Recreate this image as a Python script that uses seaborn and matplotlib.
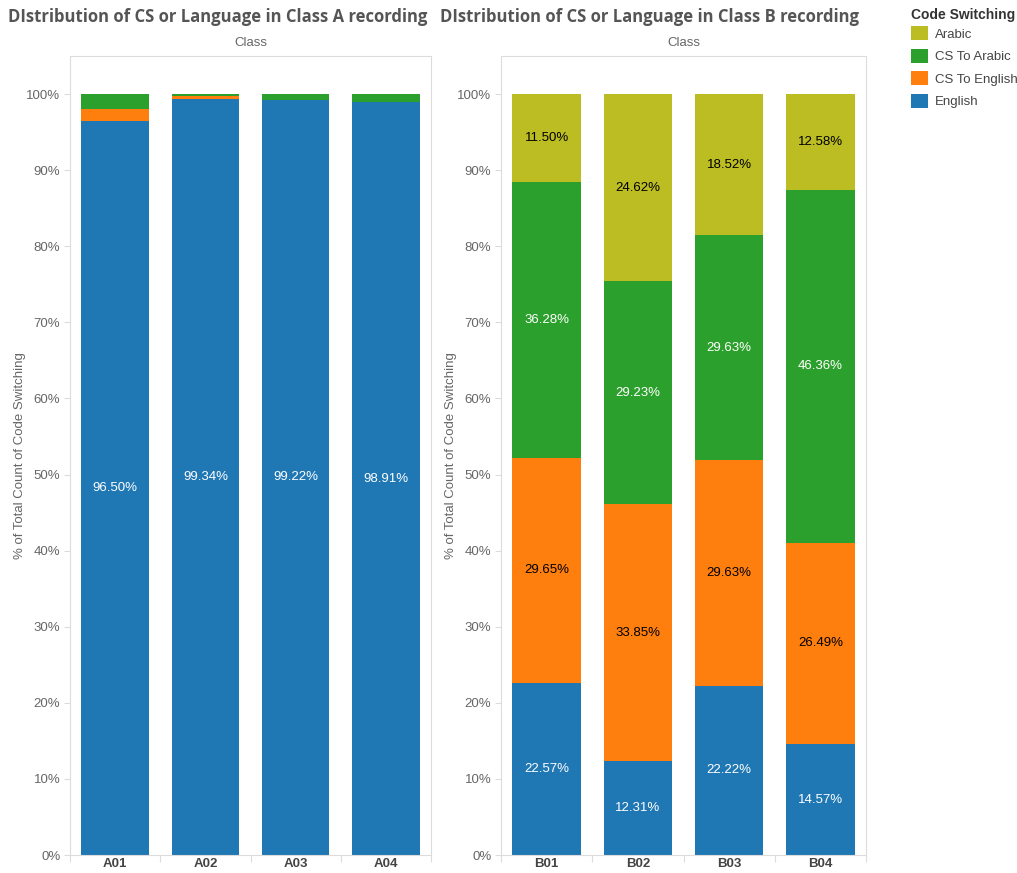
import numpy as np
import pandas as pd
import matplotlib
matplotlib.use("Agg")
import matplotlib.pyplot as plt
from matplotlib.patches import Patch
from matplotlib.ticker import FixedLocator, PercentFormatter
import seaborn as sns

# ---- data (percent of total count of code switching per class recording) ----
layers = ["English", "CS To English", "CS To Arabic", "Arabic"]   # bottom -> top

classes_a = ["A01", "A02", "A03", "A04"]
a_english = [96.50, 99.34, 99.22, 98.91]
a_cs_english = [1.55, 0.41, 0.00, 0.00]
a_cs_arabic = [1.95, 0.25, 0.78, 1.09]
a_arabic = [0.00, 0.00, 0.00, 0.00]

classes_b = ["B01", "B02", "B03", "B04"]
b_english = [22.57, 12.31, 22.22, 14.57]
b_cs_english = [29.65, 33.85, 29.63, 26.49]
b_cs_arabic = [36.28, 29.23, 29.63, 46.36]
b_arabic = [11.50, 24.62, 18.52, 12.58]

titles = ["DIstribution of CS or Language in Class A recording",
          "DIstribution of CS or Language in Class B recording"]

palette = {"English": "#1f77b4", "CS To English": "#ff7f0e",
           "CS To Arabic": "#2ca02c", "Arabic": "#bcbd22"}
label_colors = {"English": "white", "CS To English": "black",
                "CS To Arabic": "white", "Arabic": "black"}

sns.set_theme(style="white")
plt.rcParams["font.family"] = ["Liberation Sans", "DejaVu Sans"]

fig = plt.figure(figsize=(10.17, 8.73), dpi=100)
W, H = 1017, 873


def axes_at(x0, x1, y0, y1):
    return fig.add_axes([x0 / W, 1 - y1 / H, (x1 - x0) / W, (y1 - y0) / H])


ax_a = axes_at(70, 431, 56, 855)
ax_b = axes_at(501, 866, 56, 855)

grey_text = "#666666"
spine_col = "#dcdcdc"


def draw_panel(ax, classes, series, labelled):
    df = pd.DataFrame({"Class": classes})
    for name, vals in zip(layers, series):
        df[name] = vals
    cum = df[layers].cumsum(axis=1)
    # stacked bars: draw cumulative totals from the top layer down
    for name in reversed(layers):
        sns.barplot(x=df["Class"], y=cum[name], color=palette[name], ax=ax,
                    width=0.75, linewidth=0, saturation=1, order=classes)
    for i, cls in enumerate(classes):
        for name in layers:
            if name not in labelled:
                continue
            val = df.loc[i, name]
            mid = cum.loc[i, name] - val / 2
            ax.text(i, mid, f"{val:.2f}%", ha="center", va="center",
                    fontsize=9.5, color=label_colors[name])

    ax.set_xlim(-0.5, len(classes) - 0.5)
    ax.set_ylim(0, 105)
    ax.yaxis.set_major_locator(FixedLocator(np.arange(0, 101, 10)))
    ax.yaxis.set_major_formatter(PercentFormatter(decimals=0))
    ax.tick_params(axis="y", length=4, width=0.8, color=spine_col,
                   labelsize=9.5, labelcolor=grey_text, pad=3, left=True)
    ax.set_xticks(range(len(classes)))
    ax.set_xticklabels(classes, fontweight="bold", color="#444444", fontsize=9.5)
    ax.set_xticks(np.arange(-0.5, len(classes)), minor=True)
    ax.tick_params(axis="x", which="major", length=0, pad=2)
    ax.tick_params(axis="x", which="minor", length=5, width=0.8,
                   color=spine_col, bottom=True)
    ax.set_xlabel("")
    ax.set_ylabel("% of Total Count of Code Switching", fontsize=9.5,
                  color=grey_text, labelpad=0)
    ax.set_title("Class", fontsize=9.5, color=grey_text, pad=7)
    for sp in ax.spines.values():
        sp.set_color(spine_col)
        sp.set_linewidth(0.8)
    ax.grid(False)


draw_panel(ax_a, classes_a, [a_english, a_cs_english, a_cs_arabic, a_arabic],
           labelled={"English"})
draw_panel(ax_b, classes_b, [b_english, b_cs_english, b_cs_arabic, b_arabic],
           labelled=set(layers))

fig.text(8 / W, 1 - 17 / H, titles[0], ha="left", va="center", fontsize=12,
         fontweight="bold", color="#555555", family=["Open Sans", "DejaVu Sans"])
fig.text(440 / W, 1 - 17 / H, titles[1], ha="left", va="center", fontsize=12,
         fontweight="bold", color="#555555", family=["Open Sans", "DejaVu Sans"])

# legend: bold heading, then the colour swatches (top layer first)
fig.text(911 / W, 1 - 15 / H, "Code Switching", ha="left", va="center",
         fontsize=10, fontweight="bold", color="#333333")
handles = [Patch(facecolor=palette[n], edgecolor="none") for n in reversed(layers)]
leg = fig.legend(handles, list(reversed(layers)), loc="upper left",
                 bbox_to_anchor=(911 / W, 1 - 26 / H), frameon=False,
                 fontsize=9.5, handlelength=1.3, handleheight=1.3,
                 handletextpad=0.5, labelspacing=0.6, borderaxespad=0,
                 borderpad=0)
for t in leg.get_texts():
    t.set_color("#444444")

fig.savefig("out.png", dpi=100)
